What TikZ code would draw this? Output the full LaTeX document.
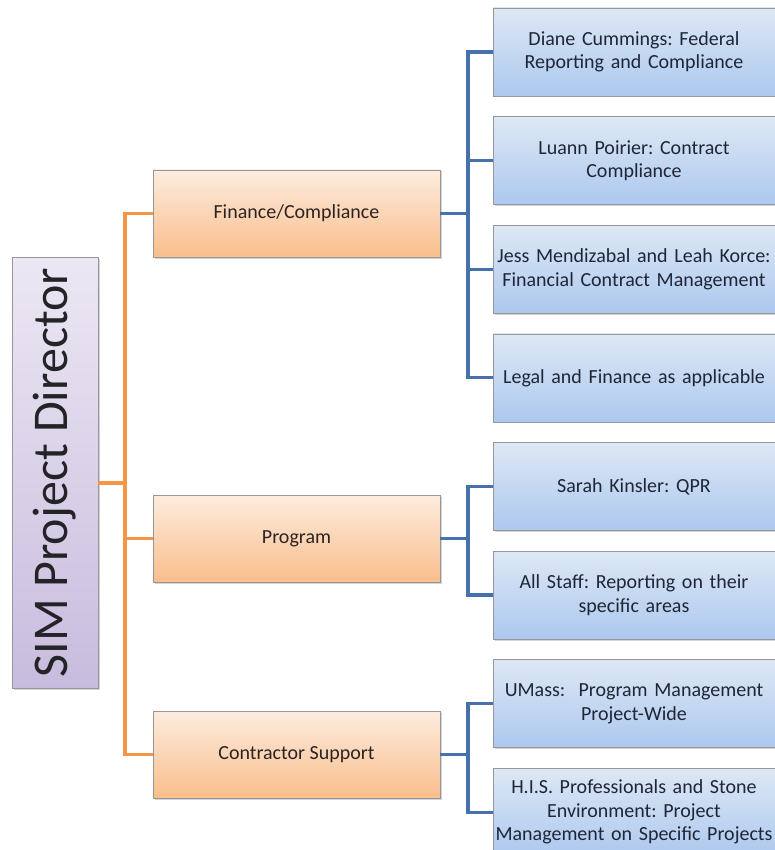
\documentclass[tikz,border=0pt]{standalone}
\usepackage{fontspec}
\setmainfont{Carlito}
\usepackage{tikz}
\usetikzlibrary{shadows}
\usetikzlibrary{positioning}
\frenchspacing

\begin{document}
\begin{tikzpicture}[x=1pt,y=-1pt,node distance=20pt,
	box/.style={rectangle,draw=boxline,line width=0.6pt,align=center,
		drop shadow={opacity=0.35,shadow xshift=1.5pt,shadow yshift=-1.5pt}},
	head node/.style={box,top color=headtop,bottom color=headbot,
		minimum width=86pt,minimum height=431pt,inner sep=0pt,text=headtext},
	main node/.style={box,top color=maintop,bottom color=mainbot,
		minimum width=287pt,minimum height=87pt,font=\fontsize{20}{24}\selectfont,text=maintext},
	leaf node/.style={box,top color=leaftop,bottom color=leafbot,
		minimum width=282pt,minimum height=88pt,inner xsep=0pt,text width=282pt,
		font=\fontsize{20}{23.5}\selectfont,text=leaftext},
	orange line/.style={draw=orangeline,line width=3.2pt},
	blue line/.style={draw=blueline,line width=3.2pt}]
	
	\definecolor{boxline}{RGB}{150,150,155}
	\definecolor{headtop}{RGB}{236,231,243}
	\definecolor{headbot}{RGB}{200,188,222}
	\definecolor{headtext}{RGB}{35,35,40}
	\definecolor{maintop}{RGB}{253,236,222}
	\definecolor{mainbot}{RGB}{249,190,140}
	\definecolor{maintext}{RGB}{45,35,35}
	\definecolor{leaftop}{RGB}{222,232,245}
	\definecolor{leafbot}{RGB}{172,200,238}
	\definecolor{leaftext}{RGB}{30,38,55}
	\definecolor{orangeline}{RGB}{243,150,72}
	\definecolor{blueline}{RGB}{72,112,170}
	
	\useasboundingbox (0,0) rectangle (775,850);
	\clip (0,0) rectangle (775,850);
	
	\node[head node] (dir) at (55,472.5) {\rotatebox{90}{\fontsize{50}{54}\selectfont SIM Project Director}};
	
	\node[main node] (fin) at (296.5,213.5) {Finance/Compliance};
	\node[main node] (prog) at (296.5,538.5) {Program};
	\node[main node] (cont) at (296.5,754.5) {Contractor Support};
	
	\node[leaf node] (b1) at (634,52) {Diane Cummings: Federal\\Reporting and Compliance};
	\node[leaf node] (b2) [below=of b1] {Luann Poirier: Contract\\Compliance};
	\node[leaf node] (b3) [below=of b2] {Jess Mendizabal and Leah Korce:\\Financial Contract Management};
	\node[leaf node] (b4) [below=of b3] {Legal and Finance as applicable};
	\node[leaf node] (b5) [below=of b4] {Sarah Kinsler: QPR};
	\node[leaf node] (b6) [below=of b5] {All Staff: Reporting on their\\specific areas};
	\node[leaf node] (b7) [below=of b6] {UMass:\ \ Program Management\\Project-Wide};
	\node[leaf node] (b8) [below=of b7] {H.I.S. Professionals and Stone\\Environment: Project\\Management on Specific Projects};
	
	\coordinate (oj) at (125,483);
	\coordinate (fj) at (468,213.5);
	\coordinate (pj) at (468,538.5);
	\coordinate (cj) at (468,754.5);
	
	\draw[orange line] (dir.east |- oj) -- (oj)
	(oj) |- (fin.west)
	(oj) |- (prog.west)
	(oj) |- (cont.west);
	
	\draw[blue line] (fin.east) -- (fj)
	(fj) |- (b1.west)
	(fj) |- (b2.west)
	(fj) |- (b3.west)
	(fj) |- (b4.west);
	\draw[blue line] (prog.east) -- (pj)
	(pj) |- (b5.west)
	(pj) |- (b6.west);
	\draw[blue line] (cont.east) -- (cj)
	(cj) |- (b7.west)
	(cj) |- (b8.west);
\end{tikzpicture}
\end{document}
